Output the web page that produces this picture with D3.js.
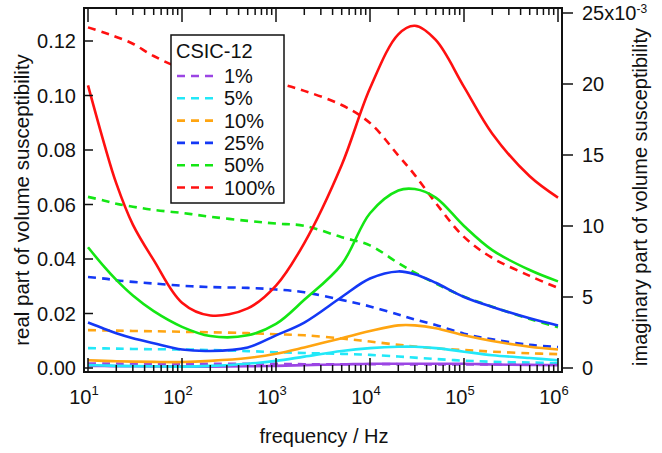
<!DOCTYPE html>
<html>
<head>
<meta charset="utf-8">
<script src="https://cdn.jsdelivr.net/npm/d3@7"></script>
<style>
  body { margin: 0; background: #fff; }
  text { font-family: "Liberation Sans", Arial, sans-serif; fill: #111; }
</style>
</head>
<body>
<svg id="chart" width="662" height="453"></svg>
<script>
// frequency grid (Hz)
const freq = [10, 15, 20, 30, 50, 100, 200, 500, 1e3, 2e3, 5e3, 1e4, 2e4, 3e4, 5e4, 1e5, 2e5, 5e5, 1e6];

// real part (left axis)
const real1   = [0.0016, 0.0016, 0.0016, 0.0015, 0.0015, 0.0015, 0.0015, 0.0015, 0.0015, 0.0014, 0.0014, 0.0014, 0.0014, 0.0013, 0.0013, 0.0013, 0.0013, 0.0012, 0.0012];
const real5   = [0.0073, 0.0072, 0.0071, 0.0070, 0.0069, 0.0068, 0.0066, 0.0062, 0.0058, 0.0055, 0.0052, 0.0048, 0.0042, 0.0038, 0.0033, 0.0027, 0.0023, 0.0020, 0.0018];
const real10  = [0.0139, 0.0138, 0.0137, 0.0136, 0.0135, 0.0133, 0.0131, 0.0128, 0.0124, 0.0120, 0.0108, 0.0097, 0.0085, 0.0079, 0.0072, 0.0066, 0.0060, 0.0054, 0.0051];
const real25  = [0.0334, 0.0328, 0.0322, 0.0316, 0.0310, 0.0302, 0.0297, 0.0294, 0.0288, 0.0278, 0.0250, 0.0226, 0.0196, 0.0178, 0.0158, 0.0126, 0.0105, 0.0085, 0.0077];
const real50  = [0.0628, 0.0614, 0.0603, 0.0592, 0.0580, 0.0569, 0.0555, 0.0540, 0.0530, 0.0522, 0.0480, 0.0450, 0.0385, 0.0350, 0.0310, 0.0262, 0.0225, 0.0180, 0.0150];
const real100 = [0.125, 0.123, 0.1215, 0.119, 0.1145, 0.110, 0.1086, 0.1064, 0.1046, 0.1017, 0.0965, 0.0899, 0.078, 0.0708, 0.0606, 0.0481, 0.0404, 0.0338, 0.0294];

// imaginary part (right axis, x10^-3)
const imag1   = [0.15, 0.14, 0.13, 0.12, 0.11, 0.10, 0.10, 0.12, 0.15, 0.20, 0.25, 0.30, 0.30, 0.30, 0.30, 0.30, 0.25, 0.22, 0.20];
const imag5   = [0.20, 0.18, 0.15, 0.13, 0.12, 0.10, 0.15, 0.30, 0.50, 0.80, 1.20, 1.40, 1.50, 1.50, 1.40, 1.15, 0.90, 0.70, 0.55];
const imag10  = [0.55, 0.50, 0.48, 0.45, 0.43, 0.42, 0.50, 0.70, 1.00, 1.45, 2.10, 2.60, 3.00, 3.00, 2.80, 2.30, 1.90, 1.50, 1.30];
const imag25  = [3.2, 2.75, 2.45, 2.1, 1.75, 1.3, 1.2, 1.45, 2.3, 3.2, 5.0, 6.3, 6.8, 6.6, 6.0, 5.0, 4.3, 3.5, 3.0];
const imag50  = [8.5, 7.1, 6.2, 5.1, 4.0, 2.9, 2.25, 2.3, 3.1, 4.8, 7.3, 10.9, 12.5, 12.6, 12.0, 10.0, 8.3, 6.9, 6.1];
const imag100 = [19.9, 15.7, 13.0, 10.1, 7.6, 4.6, 3.7, 4.2, 5.8, 8.8, 14.3, 19.7, 23.5, 24.1, 23.1, 19.8, 16.5, 13.5, 12.0];

const labels = ['1%', '5%', '10%', '25%', '50%', '100%'];
const colours = ['#9b45e4', '#22e8f8', '#ffa511', '#1438f5', '#14e614', '#ff1010'];
const realSeries = [real1, real5, real10, real25, real50, real100];
const imagSeries = [imag1, imag5, imag10, imag25, imag50, imag100];

const leftTicks = [0, 0.02, 0.04, 0.06, 0.08, 0.10, 0.12];
const rightTicks = [0, 5, 10, 15, 20, 25];
const xTicks = [1, 2, 3, 4, 5, 6];

const svg = d3.select('#chart');
const frame = { left: 84, right: 562, top: 8, bottom: 372 };

const xScale = d3.scaleLog().domain([10, 1e6]).range([88, 558]);
const yLeft = d3.scaleLinear().domain([0, 0.12]).range([368, 41]);
const yRight = d3.scaleLinear().domain([0, 25]).range([368, 13]);

// curves
const lineReal = d3.line()
  .x((d, i) => xScale(freq[i]))
  .y(d => yLeft(d))
  .curve(d3.curveCatmullRom.alpha(0.5));
const lineImag = d3.line()
  .x((d, i) => xScale(freq[i]))
  .y(d => yRight(d))
  .curve(d3.curveCatmullRom.alpha(0.5));

const plot = svg.append('g');
realSeries.forEach((s, k) => {
  plot.append('path')
    .attr('d', lineReal(s))
    .attr('fill', 'none')
    .attr('stroke', colours[k])
    .attr('stroke-width', 2.6)
    .attr('stroke-dasharray', '8,6');
});
imagSeries.forEach((s, k) => {
  plot.append('path')
    .attr('d', lineImag(s))
    .attr('fill', 'none')
    .attr('stroke', colours[k])
    .attr('stroke-width', 2.6);
});

// frame
svg.append('rect')
  .attr('x', frame.left).attr('y', frame.top)
  .attr('width', frame.right - frame.left)
  .attr('height', frame.bottom - frame.top)
  .attr('fill', 'none').attr('stroke', '#111').attr('stroke-width', 2);

// x ticks (top + bottom, inward) with minor ticks
const allX = [];
for (let e = 1; e < 6; e++) for (let m = 1; m < 10; m++) allX.push(m * Math.pow(10, e));
allX.push(1e6);
allX.forEach(v => {
  const major = Math.abs(Math.log10(v) - Math.round(Math.log10(v))) < 1e-9;
  const len = major ? 14 : 7;
  const x = xScale(v);
  svg.append('line').attr('x1', x).attr('x2', x)
    .attr('y1', frame.top).attr('y2', frame.top + len)
    .attr('stroke', '#111').attr('stroke-width', 1.5);
  svg.append('line').attr('x1', x).attr('x2', x)
    .attr('y1', frame.bottom).attr('y2', frame.bottom - len)
    .attr('stroke', '#111').attr('stroke-width', 1.5);
});

// x tick labels 10^n
xTicks.forEach(e => {
  const t = svg.append('text')
    .attr('x', xScale(Math.pow(10, e)) - 4)
    .attr('y', 404)
    .attr('text-anchor', 'middle')
    .attr('font-size', 20);
  t.append('tspan').text('10');
  t.append('tspan').attr('dy', -9).attr('font-size', 13).text(e);
});

// left ticks (inward)
leftTicks.forEach(v => {
  svg.append('line')
    .attr('x1', frame.left).attr('x2', frame.left + 9)
    .attr('y1', yLeft(v)).attr('y2', yLeft(v))
    .attr('stroke', '#111').attr('stroke-width', 1.5);
  svg.append('text')
    .attr('x', 76).attr('y', yLeft(v) + 7)
    .attr('text-anchor', 'end')
    .attr('font-size', 20)
    .text(v.toFixed(2));
});

// right ticks (outward)
rightTicks.forEach(v => {
  svg.append('line')
    .attr('x1', frame.right).attr('x2', frame.right + 11)
    .attr('y1', yRight(v)).attr('y2', yRight(v))
    .attr('stroke', '#111').attr('stroke-width', 1.5);
  const t = svg.append('text')
    .attr('x', 582).attr('y', yRight(v) + 7)
    .attr('font-size', 20);
  if (v === 25) {
    t.append('tspan').text('25x10');
    t.append('tspan').attr('dy', -7).attr('font-size', 12).text('-3');
  } else {
    t.text(v);
  }
});

// axis titles
svg.append('text')
  .attr('transform', 'translate(29,200) rotate(-90)')
  .attr('text-anchor', 'middle')
  .attr('font-size', 20.5)
  .text('real part of volume susceptibility');
svg.append('text')
  .attr('transform', 'translate(647,197) rotate(-90)')
  .attr('text-anchor', 'middle')
  .attr('font-size', 20)
  .text('imaginary part of volume susceptibility');
svg.append('text')
  .attr('x', 324).attr('y', 443)
  .attr('text-anchor', 'middle')
  .attr('font-size', 20)
  .text('frequency / Hz');

// legend
const lg = svg.append('g');
lg.append('rect')
  .attr('x', 171).attr('y', 35).attr('width', 113).attr('height', 168)
  .attr('fill', '#fff').attr('stroke', '#111').attr('stroke-width', 1.5);
lg.append('text').attr('x', 176).attr('y', 58).attr('font-size', 20).text('CSIC-12');
labels.forEach((l, k) => {
  const cy = 76 + k * 22.3;
  lg.append('line')
    .attr('x1', 177).attr('x2', 216)
    .attr('y1', cy).attr('y2', cy)
    .attr('stroke', colours[k]).attr('stroke-width', 2.6)
    .attr('stroke-dasharray', '8,6');
  lg.append('text').attr('x', 224).attr('y', cy + 7).attr('font-size', 20).text(l);
});
</script>
</body>
</html>
